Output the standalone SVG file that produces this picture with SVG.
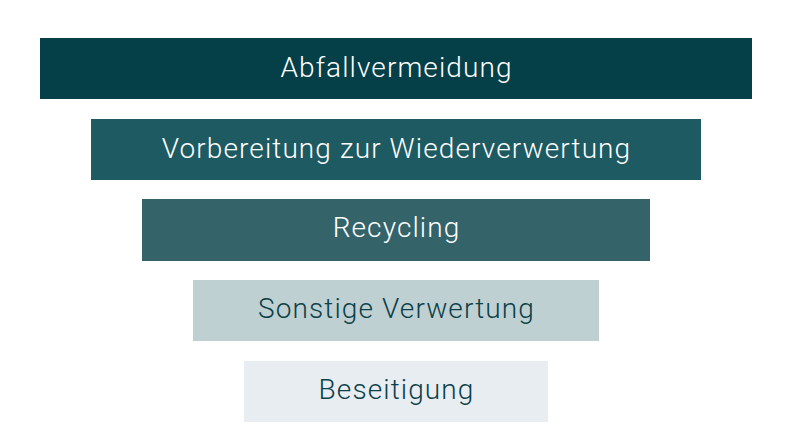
<svg xmlns="http://www.w3.org/2000/svg" width="792" height="446" viewBox="0 0 792 446">
<style>
text{font-family:Roboto,"Liberation Sans",sans-serif;font-size:28px;font-weight:300;letter-spacing:1.1px;text-anchor:middle}
.l{fill:#ffffff}
.d{fill:#0b4048}
</style>
<rect width="792" height="446" fill="#ffffff"/>
<g id="n1"><rect x="40" y="38" width="712" height="61" fill="#053f48"/><text class="l" x="396.5" y="77">Abfallvermeidung</text></g>
<g id="n2"><rect x="91" y="119" width="610" height="61" fill="#1e5a61"/><text class="l" x="396.5" y="157.5">Vorbereitung zur Wiederverwertung</text></g>
<g id="n3"><rect x="142" y="199" width="508" height="62" fill="#34646a"/><text class="l" x="396.5" y="237">Recycling</text></g>
<g id="n4"><rect x="193" y="280" width="406" height="61" fill="#bfd0d2"/><text class="d" x="396.5" y="318">Sonstige Verwertung</text></g>
<g id="n5"><rect x="244" y="361" width="304" height="61" fill="#e8edf2"/><text class="d" x="396.5" y="399">Beseitigung</text></g>
<g id="connectors"/>
</svg>
